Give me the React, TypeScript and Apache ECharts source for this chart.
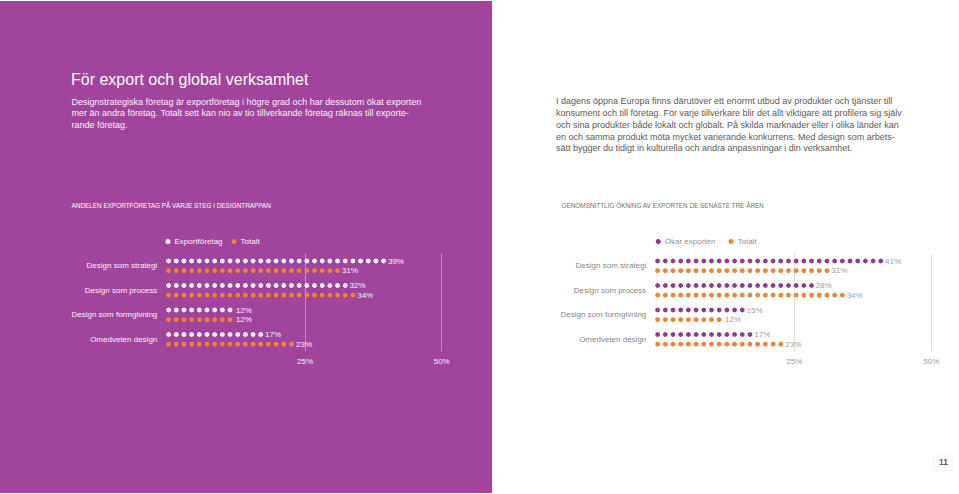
import React, { useEffect, useRef } from 'react';
import * as echarts from 'echarts';

const categories = ['Design som strategi', 'Design som process', 'Design som formgivning', 'Omedveten design'];
const exportforetag = [39, 32, 12, 17];
const totaltLeft = [31, 34, 12, 23];
const okarExporten = [41, 28, 15, 17];
const totaltRight = [31, 34, 12, 23];
const tickValues = [25, 50];

const titleText = 'För export och global verksamhet';
const leftParagraph = [
  'Designstrategiska företag är exportföretag i högre grad och har dessutom ökat exporten',
  'mer än andra företag. Totalt sett kan nio av tio tillverkande företag räknas till exporte-',
  'rande företag.',
];
const rightParagraph = [
  'I dagens öppna Europa finns därutöver ett enormt utbud av produkter och tjänster till',
  'konsument och till företag. För varje tillverkare blir det allt viktigare att profilera sig själv',
  'och sina produkter både lokalt och globalt. På skilda marknader eller i olika länder kan',
  'en och samma produkt möta mycket varierande konkurrens. Med design som arbets-',
  'sätt bygger du tidigt in kulturella och andra anpassningar i din verksamhet.',
];
const leftChartTitle = 'ANDELEN EXPORTFÖRETAG PÅ VARJE STEG I DESIGNTRAPPAN';
const rightChartTitle = 'GENOMSNITTLIG ÖKNING AV EXPORTEN DE SENASTE TRE ÅREN';
const pageNumber = '11';

const PURPLE_BG = '#A1449B';
const ORANGE = '#EF8336';
const PURPLE_DOT = '#8E3A8E';
const FONT = 'Liberation Sans, Arial, sans-serif';

export default function App() {
  const ref = useRef<HTMLDivElement>(null);
  useEffect(() => {
    if (!ref.current) return;
    const chart = echarts.init(ref.current, undefined, { renderer: 'svg' });

    const dotSeries = (
      name: string,
      data: number[],
      color: string,
      labelColor: string,
      axis: number
    ) => ({
      type: 'pictorialBar',
      name,
      xAxisIndex: axis,
      yAxisIndex: axis,
      data,
      symbol: 'circle',
      symbolSize: [4.6, 4.6],
      symbolRepeat: true,
      symbolMargin: 1.6,
      symbolOffset: [-2, 0],
      barWidth: 9.7,
      barGap: '0%',
      itemStyle: { color },
      label: {
        show: true,
        position: 'right',
        distance: 2,
        formatter: (p: any) => p.value + '%',
        color: labelColor,
        fontSize: 8,
        fontFamily: FONT,
      },
      z: 3,
    });

    const xAxisCfg = (gridIndex: number, lineColor: string, labelColor: string) => ({
      type: 'value',
      gridIndex,
      min: 0,
      max: 50,
      interval: 25,
      axisLine: { show: false },
      axisTick: { show: false },
      splitLine: { show: true, lineStyle: { color: ['rgba(0,0,0,0)', lineColor, lineColor], width: 1 } },
      axisLabel: {
        formatter: (v: number) => (tickValues.includes(v) ? v + '%' : ''),
        color: labelColor,
        fontSize: 8,
        fontFamily: FONT,
        margin: 6,
      },
    });

    const yAxisCfg = (gridIndex: number, labelColor: string) => ({
      type: 'category',
      gridIndex,
      data: categories,
      inverse: true,
      axisLine: { show: false },
      axisTick: { show: false },
      axisLabel: { color: labelColor, fontSize: 8, fontFamily: FONT, margin: 11 },
    });

    const txt = (text: string, x: number, y: number, fontSize: number, fill: string, extra: any = {}) => ({
      type: 'text',
      x,
      y,
      silent: true,
      style: {
        text,
        fill,
        fontSize,
        fontFamily: FONT,
        verticalAlign: 'middle',
        align: 'left',
        ...extra,
      },
    });

    const graphics: any[] = [];
    graphics.push(txt(titleText, 71, 79, 16, '#ffffff'));
    leftParagraph.forEach((line, i) => graphics.push(txt(line, 71.5, 101.7 + i * 11.7, 9, '#fbf2fa')));
    rightParagraph.forEach((line, i) => graphics.push(txt(line, 556, 101.2 + i * 11.8, 9, '#5a5a5a')));
    graphics.push(txt(leftChartTitle, 71.5, 205, 6.4, '#ffffff'));
    graphics.push(txt(rightChartTitle, 561.5, 205, 6.4, '#707070'));
    graphics.push(txt(pageNumber, 943.5, 462, 8.5, '#8E3A8E', { align: 'center', fontWeight: 'bold' }));

    chart.setOption({
      animation: false,
      backgroundColor: 'transparent',
      grid: [
        { left: 168.3, top: 253.6, width: 273.4, height: 98, containLabel: false },
        { left: 657.3, top: 253.6, width: 274, height: 98, containLabel: false },
      ],
      legend: [
        {
          data: ['Exportföretag', 'Totalt'],
          left: 165.5,
          top: 237.5,
          icon: 'circle',
          itemWidth: 5,
          itemHeight: 5,
          itemGap: 9,
          selectedMode: false,
          padding: 0,
          textStyle: { color: '#fbf2fa', fontSize: 8, fontFamily: FONT, padding: [0, 0, 0, -1] },
        },
        {
          data: ['Ökar exporten', 'Totalt'],
          left: 655.8,
          top: 237.5,
          icon: 'circle',
          itemWidth: 5,
          itemHeight: 5,
          itemGap: 13,
          selectedMode: false,
          padding: 0,
          textStyle: { color: '#929292', fontSize: 8, fontFamily: FONT, padding: [0, 0, 0, -1] },
        },
      ],
      xAxis: [xAxisCfg(0, '#C98FC4', '#fbf2fa'), xAxisCfg(1, '#DEDEDE', '#a0a0a0')],
      yAxis: [yAxisCfg(0, '#fbf2fa'), yAxisCfg(1, '#878787')],
      series: [
        dotSeries('Exportföretag', exportforetag, '#ffffff', '#fbf2fa', 0),
        dotSeries('Totalt', totaltLeft, ORANGE, '#fbf2fa', 0),
        dotSeries('Ökar exporten', okarExporten, PURPLE_DOT, '#a0a0a0', 1),
        dotSeries('Totalt', totaltRight, ORANGE, '#a0a0a0', 1),
      ],
      graphic: graphics,
    } as any);

    return () => chart.dispose();
  }, []);

  return (
    <div style={{ position: 'fixed', left: 0, top: 0, width: 959, height: 494, background: '#ffffff', overflow: 'hidden' }}>
      <div style={{ position: 'absolute', left: 0, top: 1, width: 492, height: 492, background: PURPLE_BG }} />
      <div
        style={{ position: 'absolute', left: 935, top: 454, width: 17, height: 16, background: 'rgba(255,255,255,0.9)', boxShadow: '0 0 2px rgba(200,180,200,0.4)' }}
      />
      <div ref={ref} style={{ position: 'absolute', left: 0, top: 0, width: 959, height: 494 }} />
    </div>
  );
}
